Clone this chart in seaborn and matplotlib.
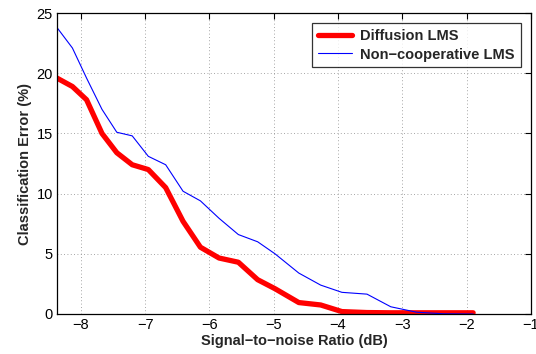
import pandas as pd
import matplotlib
matplotlib.use("Agg")
import matplotlib.pyplot as plt
import seaborn as sb

# valores
snr = [-8.37, -8.13, -7.91, -7.67, -7.44, -7.20, -6.95, -6.68, -6.41, -6.14, -5.85,
       -5.55, -5.25, -4.98, -4.61, -4.27, -3.94, -3.55, -3.18, -2.78, -2.37, -1.90]
diffusion = [19.6, 18.9, 17.8, 15.0, 13.4, 12.4, 12.0, 10.5, 7.7, 5.55, 4.65,
             4.3, 2.85, 2.1, 0.95, 0.75, 0.2, 0.12, 0.1, 0.1, 0.1, 0.1]
noncoop = [23.8, 22.1, 19.6, 17.0, 15.1, 14.8, 13.1, 12.4, 10.2, 9.4, 7.95,
           6.6, 6.0, 5.0, 3.4, 2.4, 1.8, 1.65, 0.6, 0.15, 0.02, 0.0]
metodos = ["Diffusion LMS", "Non\u2212cooperative LMS"]
xticks = [-8, -7, -6, -5, -4, -3, -2, -1]
yticks = [0, 5, 10, 15, 20, 25]

df = pd.DataFrame({
    "snr": snr * 2,
    "erro": diffusion + noncoop,
    "metodo": [metodos[0]] * len(snr) + [metodos[1]] * len(snr),
})

sb.set_style("white")
plt.rcParams["font.family"] = ["Liberation Sans", "DejaVu Sans"]

fig = plt.figure(figsize=(5.36, 3.54), dpi=100)
ax = fig.add_axes([0.1063, 0.113, 0.8844, 0.850])

sb.lineplot(data=df, x="snr", y="erro", hue="metodo", size="metodo",
            sizes={metodos[0]: 3.8, metodos[1]: 0.8},
            palette={metodos[0]: "#ff0000", metodos[1]: "#0000ff"},
            ax=ax)

ax.set_xlim(-8.37, -1)
ax.set_ylim(0, 25)
ax.set_xticks(xticks)
ax.set_yticks(yticks)
ax.tick_params(direction="in", top=True, right=True, length=4, width=0.8,
               labelsize=10.5, colors="black", pad=3)
ax.grid(True, linestyle=(0, (1, 3)), color="#888888", linewidth=0.6)
for s in ax.spines.values():
    s.set_color("black")
    s.set_linewidth(0.9)

ax.set_xlabel("Signal\u2212to\u2212noise Ratio (dB)", fontsize=10.5, fontweight="bold", labelpad=1)
ax.set_ylabel("Classification Error (%)", fontsize=10.5, fontweight="bold", labelpad=3)

leg = ax.legend(loc="upper right", fontsize=10.5, frameon=True, fancybox=False,
                borderaxespad=0.7, handlelength=2.3, handletextpad=0.6,
                borderpad=0.4, labelspacing=0.3)
leg.get_frame().set_edgecolor("black")
leg.get_frame().set_linewidth(0.9)
for t in leg.get_texts():
    t.set_fontweight("bold")

fig.savefig("out.png", dpi=100)
